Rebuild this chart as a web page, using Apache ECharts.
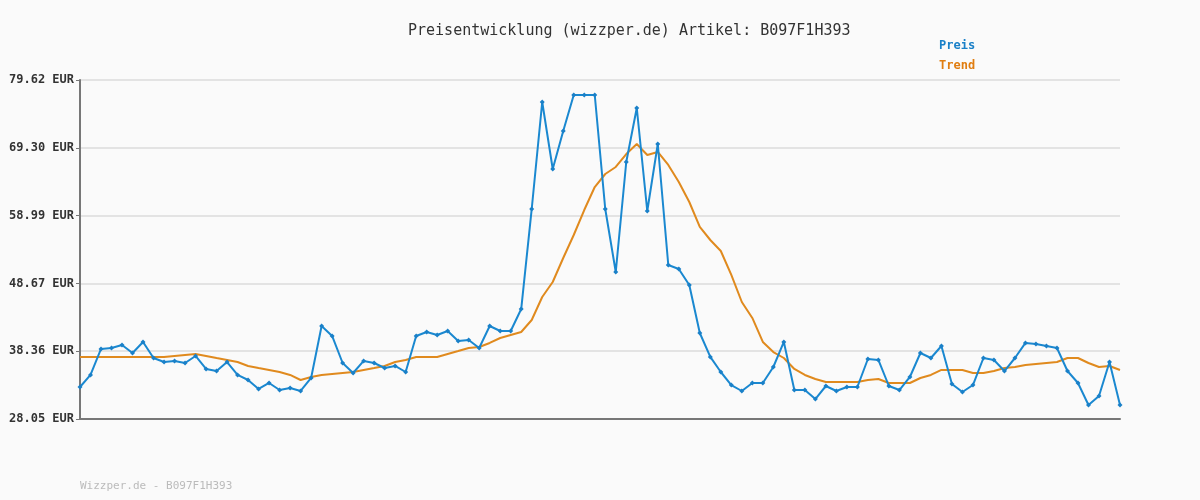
<!DOCTYPE html>
<html><head><meta charset="utf-8">
<script src="https://cdn.jsdelivr.net/npm/echarts@6/dist/echarts.min.js"></script>
<style>html,body{margin:0;background:#fafafa}#c{width:1200px;height:500px}</style>
</head><body><div id="c"></div>
<script>
const yTickLabels = ['28.05 EUR','38.36 EUR','48.67 EUR','58.99 EUR','69.30 EUR','79.62 EUR'];
const preis = [32.92,34.75,38.70,38.85,39.31,38.09,39.77,37.33,36.72,36.88,
36.57,37.64,35.66,35.35,36.72,34.75,33.98,32.62,33.53,32.46,
32.77,32.31,34.29,42.20,40.68,36.57,35.05,36.88,36.57,35.81,
36.12,35.20,40.68,41.29,40.83,41.44,39.92,40.07,38.85,42.20,
41.44,41.44,44.78,60.00,76.27,66.08,71.86,77.34,77.34,77.34,
60.00,50.41,67.15,75.36,59.69,69.88,51.48,50.87,48.44,41.13,
37.49,35.20,33.22,32.31,33.53,33.53,35.96,39.77,32.46,32.46,
31.09,33.07,32.31,32.92,32.92,37.18,37.03,33.07,32.46,34.44,
38.09,37.33,39.16,33.38,32.16,33.22,37.33,37.03,35.35,37.33,
39.62,39.47,39.16,38.85,35.35,33.53,30.18,31.55,36.72,30.18];
const trend = [37.49,37.49,37.49,37.49,37.49,37.49,37.49,37.49,37.49,37.64,
37.79,37.94,37.64,37.33,37.03,36.72,36.12,35.81,35.51,35.20,
34.75,33.98,34.44,34.75,34.90,35.05,35.20,35.51,35.81,36.12,
36.72,37.03,37.49,37.49,37.49,37.94,38.39,38.85,39.01,39.62,
40.37,40.83,41.29,43.11,46.61,48.89,52.54,56.04,59.84,63.34,
65.32,66.39,68.36,69.88,68.21,68.67,66.69,64.10,61.06,57.26,
55.28,53.61,49.96,45.85,43.42,39.77,38.24,37.33,35.66,34.75,
34.14,33.68,33.68,33.68,33.68,33.98,34.14,33.53,33.53,33.53,
34.29,34.75,35.51,35.51,35.51,35.05,35.05,35.35,35.81,35.96,
36.27,36.42,36.57,36.72,37.33,37.33,36.57,35.96,36.12,35.51];
const categories = preis.map((_, i) => String(i + 1));
const mono = 'DejaVu Sans Mono';
const chart = echarts.init(document.getElementById('c'));
chart.setOption({
  backgroundColor: '#fafafa',
  animation: false,
  title: { text: 'Preisentwicklung (wizzper.de) Artikel: B097F1H393', left: 403, top: 19,
    textStyle: { fontFamily: mono, fontSize: 15, fontWeight: 'normal', color: '#333' } },
  graphic: [
    { type: 'text', left: 939, top: 40, style: { text: 'Preis', font: 'bold 12px "DejaVu Sans Mono"', fill: '#1a80c8' } },
    { type: 'text', left: 939, top: 60, style: { text: 'Trend', font: 'bold 12px "DejaVu Sans Mono"', fill: '#e07d10' } },
    { type: 'text', left: 80, top: 481, style: { text: 'Wizzper.de - B097F1H393', font: '11px "DejaVu Sans Mono"', fill: '#bbbbbb' } }
  ],
  grid: { left: 80, right: 80, top: 80, bottom: 81 },
  xAxis: { type: 'category', data: categories, boundaryGap: false,
    axisLine: { lineStyle: { color: '#777', width: 2 } }, axisTick: { show: false }, axisLabel: { show: false } },
  yAxis: { type: 'value', min: 28.05, max: 79.62, interval: 10.314,
    axisLine: { show: true, lineStyle: { color: '#777', width: 2 } },
    axisTick: { show: true, length: 4, lineStyle: { color: '#777' } },
    splitLine: { lineStyle: { color: '#e3e3e3', width: 2 } },
    axisLabel: { fontFamily: mono, fontSize: 12, fontWeight: 'bold', color: '#333', margin: 6,
      formatter: v => yTickLabels[Math.round((v - 28.05) / 10.314)] } },
  series: [
    { name: 'Trend', type: 'line', data: trend, symbol: 'none', lineStyle: { color: '#e08a1e', width: 2 }, z: 2 },
    { name: 'Preis', type: 'line', data: preis, symbol: 'diamond', symbolSize: 5, showAllSymbol: true,
      itemStyle: { color: '#1a80c8' }, lineStyle: { color: '#1a88d0', width: 2 }, z: 3 }
  ]
});
</script></body></html>
